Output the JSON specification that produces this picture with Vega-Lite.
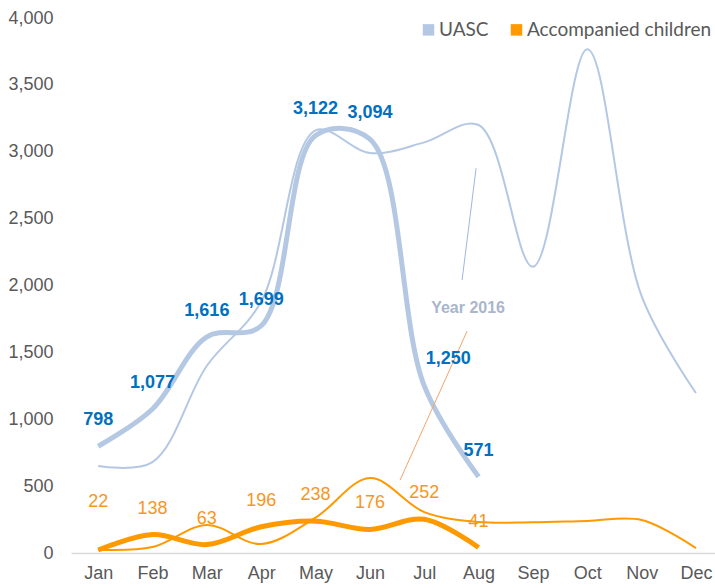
{
  "$schema": "https://vega.github.io/schema/vega-lite/v6.json",
  "width": 644,
  "height": 535,
  "autosize": {"type": "none"},
  "padding": {"left": 71, "top": 18, "right": 0, "bottom": 35},
  "config": {"view": {"stroke": null}, "font": "Liberation Sans"},
  "datasets": {
    "series": [
      {"month": 1, "series": "UASC", "year": 2016, "value": 650},
      {"month": 2, "series": "UASC", "year": 2016, "value": 680},
      {"month": 3, "series": "UASC", "year": 2016, "value": 1400},
      {"month": 4, "series": "UASC", "year": 2016, "value": 1880},
      {"month": 5, "series": "UASC", "year": 2016, "value": 3160},
      {"month": 6, "series": "UASC", "year": 2016, "value": 2990},
      {"month": 7, "series": "UASC", "year": 2016, "value": 3070},
      {"month": 8, "series": "UASC", "year": 2016, "value": 3200},
      {"month": 9, "series": "UASC", "year": 2016, "value": 2140},
      {"month": 10, "series": "UASC", "year": 2016, "value": 3766},
      {"month": 11, "series": "UASC", "year": 2016, "value": 1920},
      {"month": 12, "series": "UASC", "year": 2016, "value": 1196},
      {"month": 1, "series": "Accompanied children", "year": 2016, "value": 25},
      {"month": 2, "series": "Accompanied children", "year": 2016, "value": 45},
      {"month": 3, "series": "Accompanied children", "year": 2016, "value": 209},
      {"month": 4, "series": "Accompanied children", "year": 2016, "value": 67},
      {"month": 5, "series": "Accompanied children", "year": 2016, "value": 265},
      {"month": 6, "series": "Accompanied children", "year": 2016, "value": 560},
      {"month": 7, "series": "Accompanied children", "year": 2016, "value": 306},
      {"month": 8, "series": "Accompanied children", "year": 2016, "value": 232},
      {"month": 9, "series": "Accompanied children", "year": 2016, "value": 230},
      {"month": 10, "series": "Accompanied children", "year": 2016, "value": 240},
      {"month": 11, "series": "Accompanied children", "year": 2016, "value": 247},
      {"month": 12, "series": "Accompanied children", "year": 2016, "value": 37},
      {"month": 1, "series": "UASC", "year": 2017, "value": 798},
      {"month": 2, "series": "UASC", "year": 2017, "value": 1077},
      {"month": 3, "series": "UASC", "year": 2017, "value": 1616},
      {"month": 4, "series": "UASC", "year": 2017, "value": 1699},
      {"month": 5, "series": "UASC", "year": 2017, "value": 3122},
      {"month": 6, "series": "UASC", "year": 2017, "value": 3094},
      {"month": 7, "series": "UASC", "year": 2017, "value": 1250},
      {"month": 8, "series": "UASC", "year": 2017, "value": 571},
      {"month": 1, "series": "Accompanied children", "year": 2017, "value": 22},
      {"month": 2, "series": "Accompanied children", "year": 2017, "value": 138},
      {"month": 3, "series": "Accompanied children", "year": 2017, "value": 63},
      {"month": 4, "series": "Accompanied children", "year": 2017, "value": 196},
      {"month": 5, "series": "Accompanied children", "year": 2017, "value": 238},
      {"month": 6, "series": "Accompanied children", "year": 2017, "value": 176},
      {"month": 7, "series": "Accompanied children", "year": 2017, "value": 252},
      {"month": 8, "series": "Accompanied children", "year": 2017, "value": 41}
    ],
    "annot": [
      {"id": "blue", "month": 7.696, "value": 2040},
      {"id": "blue", "month": 7.954, "value": 2877},
      {"id": "orange", "month": 6.556, "value": 546},
      {"id": "orange", "month": 7.788, "value": 1659}
    ],
    "note": [
      {"month": 7.806, "value": 1831, "label": "Year 2016"}
    ]
  },
  "encoding": {
    "x": {
      "field": "month", "type": "quantitative",
      "scale": {"domain": [0.5, 12.35], "nice": false, "zero": false},
      "axis": {
        "values": [1, 2, 3, 4, 5, 6, 7, 8, 9, 10, 11, 12],
        "labelExpr": "['Jan','Feb','Mar','Apr','May','Jun','Jul','Aug','Sep','Oct','Nov','Dec'][datum.value-1]",
        "title": null, "grid": false, "ticks": false,
        "domain": true, "domainColor": "#D9D9D9", "domainWidth": 1.5,
        "labelFontSize": 18, "labelColor": "#595959", "labelPadding": 11
      }
    },
    "y": {
      "field": "value", "type": "quantitative",
      "scale": {"domain": [0, 4000], "nice": false},
      "axis": {
        "values": [0, 500, 1000, 1500, 2000, 2500, 3000, 3500, 4000],
        "format": ",d", "title": null, "grid": false, "ticks": false, "domain": false,
        "labelFontSize": 18, "labelColor": "#595959", "labelPadding": 18
      }
    }
  },
  "layer": [
    {
      "data": {"name": "series"},
      "mark": {"type": "line", "interpolate": "catmull-rom"},
      "encoding": {
        "color": {
          "field": "series", "type": "nominal",
          "scale": {"domain": ["UASC", "Accompanied children"], "range": ["#B4C8E4", "#FF9900"]},
          "legend": {
            "title": null, "orient": "none", "legendX": 348, "legendY": 2,
            "direction": "horizontal", "symbolType": "square", "symbolSize": 30,
            "symbolStrokeWidth": 6, "labelFontSize": 19, "labelColor": "#595959",
            "labelFont": "Lato", "labelLimit": 0, "columnPadding": 12, "labelOffset": 1
          }
        },
        "strokeWidth": {
          "field": "year", "type": "ordinal",
          "scale": {"domain": [2016, 2017], "range": [2, 5]}, "legend": null
        }
      }
    },
    {
      "data": {"name": "annot"},
      "mark": {"type": "line", "strokeWidth": 1},
      "encoding": {
        "detail": {"field": "id"},
        "color": {"condition": {"test": "datum.id === 'blue'", "value": "#9DB7DF"}, "value": "#F4A46A"}
      }
    },
    {
      "data": {"name": "note"},
      "mark": {"type": "text", "fontSize": 16, "fontWeight": "bold", "color": "#A9B6CC"},
      "encoding": {"text": {"field": "label"}}
    },
    {
      "data": {"name": "series"},
      "transform": [{"filter": "datum.year === 2017 && datum.series === 'UASC' && datum.month !== 7"}],
      "mark": {"type": "text", "fontSize": 18, "fontWeight": "bold", "color": "#0070C0", "dy": -26},
      "encoding": {"text": {"field": "value", "format": ","}}
    },
    {
      "data": {"name": "series"},
      "transform": [{"filter": "datum.year === 2017 && datum.series === 'UASC' && datum.month === 7"}],
      "mark": {"type": "text", "fontSize": 18, "fontWeight": "bold", "color": "#0070C0", "dy": -27, "dx": 24},
      "encoding": {"text": {"field": "value", "format": ","}}
    },
    {
      "data": {"name": "series"},
      "transform": [{"filter": "datum.year === 2017 && datum.series === 'Accompanied children' && datum.month !== 1"}],
      "mark": {"type": "text", "fontSize": 18, "color": "#F7961E", "dy": -26},
      "encoding": {"text": {"field": "value", "format": ","}}
    },
    {
      "data": {"name": "series"},
      "transform": [{"filter": "datum.year === 2017 && datum.series === 'Accompanied children' && datum.month === 1"}],
      "mark": {"type": "text", "fontSize": 18, "color": "#F7961E", "dy": -48},
      "encoding": {"text": {"field": "value", "format": ","}}
    }
  ]
}
